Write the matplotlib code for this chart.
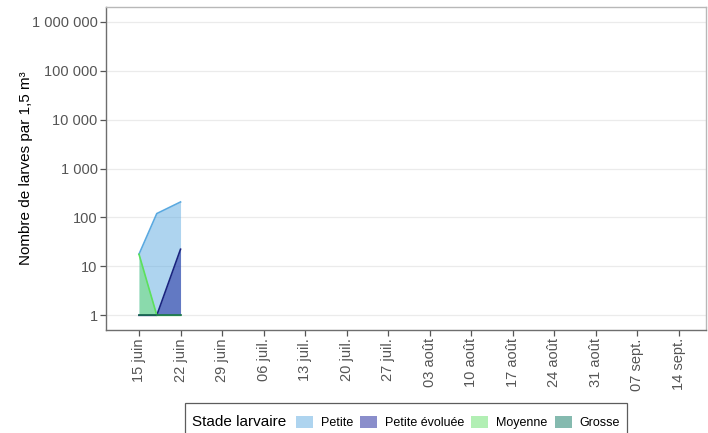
import datetime as dt
import matplotlib
matplotlib.use("Agg")
import matplotlib.pyplot as plt
import matplotlib.dates as mdates
from matplotlib.patches import Patch
from matplotlib.offsetbox import HPacker, VPacker, DrawingArea
from matplotlib.ticker import FixedLocator, FuncFormatter, NullLocator

plt.rcParams['font.family'] = ['Liberation Sans', 'DejaVu Sans']

# données
dates = [dt.date(2023, 6, 15), dt.date(2023, 6, 18), dt.date(2023, 6, 22)]
petite = [17.7, 120, 207]
petite_evoluee = [1, 1, 22.4]
moyenne = [17.7, 1, 1]
grosse = [1, 1, 1]

stades = ['Petite', 'Petite évoluée', 'Moyenne', 'Grosse']
series = [petite, petite_evoluee, moyenne, grosse]
fill_colors = ['#5fabe1', '#171f99', '#67e16b', '#0d7761']
line_colors = ['#5aa9e0', '#1a237e', '#5ce05c', '#1b6e4e']

tick_dates = [dt.date(2023, 6, 15) + dt.timedelta(days=7 * i) for i in range(14)]
tick_labels = ['15 juin', '22 juin', '29 juin', '06 juil.', '13 juil.', '20 juil.',
               '27 juil.', '03 août', '10 août', '17 août', '24 août', '31 août',
               '07 sept.', '14 sept.']
y_ticks = [1, 10, 100, 1000, 10000, 100000, 1000000]

fig = plt.figure(figsize=(7.08, 4.33), dpi=100)
ax = fig.add_axes([106 / 708, (433 - 330) / 433, 600 / 708, 323 / 433])

for vals, fc, lc in zip(series, fill_colors, line_colors):
    ax.fill_between(dates, 1, vals, color=fc, alpha=0.5, linewidth=0)
    ax.plot(dates, vals, color=lc, linewidth=1.2)

ax.set_yscale('log')
ax.set_ylim(10 ** -0.3, 10 ** 6.3)
ax.yaxis.set_major_locator(FixedLocator(y_ticks))
ax.yaxis.set_minor_locator(NullLocator())
ax.yaxis.set_major_formatter(FuncFormatter(lambda v, p: f"{int(round(v)):,}".replace(',', ' ')))

x0 = mdates.date2num(dt.date(2023, 6, 15))
ax.set_xlim(x0 - 5.56, x0 + 91 + 4.55)
ax.set_xticks([mdates.date2num(d) for d in tick_dates])
ax.set_xticklabels(tick_labels, rotation=90)

ax.grid(axis='y', color='#ebebeb', linewidth=0.9)
ax.set_axisbelow(True)
for s in ['top', 'right']:
    ax.spines[s].set_color('#b8b8b8')
for s in ['left', 'bottom']:
    ax.spines[s].set_color('#6e6e6e')
for s in ax.spines.values():
    s.set_linewidth(1.0)
ax.tick_params(axis='both', length=4, width=0.9, color='#555555',
               labelsize=10.5, labelcolor='#555555', pad=2)

ax.set_ylabel('Nombre de larves par 1,5 m³', fontsize=11, labelpad=-1)

handles = [Patch(facecolor=c, alpha=0.5, edgecolor='none') for c in fill_colors]
leg = fig.legend(handles, stades, loc='upper center', bbox_to_anchor=(406 / 708, 1 - 403 / 433),
                 ncol=4, fontsize=9, title='Stade larvaire', title_fontsize=11,
                 frameon=True, fancybox=False, edgecolor='#333333',
                 handlelength=1.36, handleheight=1.2, handletextpad=0.65,
                 columnspacing=0.55, borderpad=0.55, borderaxespad=0)
leg.get_frame().set_linewidth(0.9)
# titre de la légende à gauche, comme dans ggplot (bas coupé par le bord)
old = leg._legend_box
row = HPacker(pad=0, sep=7, align='center',
              children=[leg._legend_title_box, leg._legend_handle_box])
box = VPacker(pad=old.pad, sep=0, align='left', children=[DrawingArea(1, 4), row])
box.set_figure(fig)
box.set_offset(leg._findoffset)
leg._legend_box = box

fig.savefig('out.png', dpi=100)
